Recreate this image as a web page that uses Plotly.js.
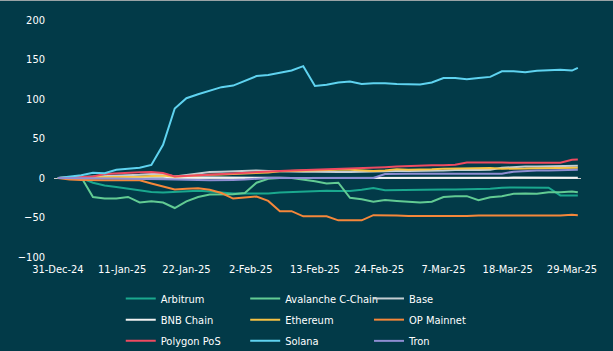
<!DOCTYPE html>
<html>
<head>
<meta charset="utf-8">
<script src="https://cdn.plot.ly/plotly-3.0.1.min.js"></script>
<style>
html,body{margin:0;padding:0;background:#023a48;}
#chart{width:613px;height:351px;}
#topline{position:absolute;left:0;top:0;width:613px;height:1px;background:#9aa3a6;}
</style>
</head>
<body>
<div id="chart"></div>
<div id="topline"></div>
<script>
const dates = ['2024-12-31','2025-01-02','2025-01-04','2025-01-06','2025-01-08','2025-01-10','2025-01-12','2025-01-14','2025-01-16','2025-01-18',
'2025-01-20','2025-01-22','2025-01-24','2025-01-26','2025-01-28','2025-01-30','2025-02-01','2025-02-03','2025-02-05','2025-02-07',
'2025-02-09','2025-02-11','2025-02-13','2025-02-15','2025-02-17','2025-02-19','2025-02-21','2025-02-23','2025-02-25','2025-02-27',
'2025-03-01','2025-03-03','2025-03-05','2025-03-07','2025-03-09','2025-03-11','2025-03-13','2025-03-15','2025-03-17','2025-03-19',
'2025-03-21','2025-03-23','2025-03-25','2025-03-27','2025-03-29','2025-03-30'];

const arbitrum = [0,0,0,-6,-9.5,-11.3,-13.5,-15.5,-17.7,-18.5,-17.5,-16.4,-16,-17,-18.5,-19.5,-19.5,-19.8,-19.5,-18.5,-17.7,-17,-16.5,-16,-16.5,-16.5,-15,-12.6,-15.5,-15.5,-15.5,-15,-14.7,-14.7,-14.5,-14.5,-14,-13.5,-12.2,-12,-12,-12,-12.2,-22,-22,-22];
const avalanche = [0,0.5,1,-24,-26,-26,-24,-31,-29.5,-31,-38,-29.5,-24,-21,-20.5,-20.5,-19,-6,-1,0,0,-1.7,-4,-7,-6,-25,-27,-30,-28,-29,-30,-31,-30,-24,-23,-23,-28,-24.5,-23,-20,-19.5,-19.8,-18,-18,-17,-18];
const base = [0,0.5,1,1.5,2,3,3.5,4,5,5,2,4,6,7.5,8,8.5,9,9.5,9,8.5,8.5,8,8,7.5,7.5,7.5,8,8,8.5,9,9,9,9.5,9.5,10,10.5,10,10.5,13,14,14.5,14.5,15,15,15.5,15.5];
const bnb = [0,0.3,0.5,0.5,0.8,1,1,1.2,1.5,1.5,0.5,1,1,1,1,0.8,0.5,0.5,0.3,0.2,0,0,0,-0.3,-0.3,-0.5,-0.5,-0.3,0,0,0,0,0.2,0.2,0.3,0.3,0.3,0.3,0.3,0.5,0.5,0.5,0.5,0.5,0.5,0.3];
const ethereum = [0,0,0.5,1,1,1.5,1.5,1.5,2.5,3,1.5,2.5,3.5,4.2,4.5,5,5.5,6.3,7,8.5,9,9.5,10,10,10.5,10.5,10,9,9.5,11,10.5,10.3,11,11.8,12,12.2,12.5,12.7,11.8,11.6,12,12.5,12.7,13,13,13];
const opMainnet = [0,-2,-2.5,-3,-3,-3,-3,-3,-7,-11,-14.5,-13.5,-13,-15,-19,-26,-24.5,-23.5,-29,-42,-42,-48.5,-48.5,-48.5,-53.6,-53.6,-53.6,-47,-47,-47.5,-48,-48,-48.5,-48,-48,-48,-47.5,-47.5,-47.5,-47.5,-47.5,-47.5,-47,-47.5,-46.5,-47];
const polygon = [0,0.5,1,2,5,6,6.5,7.3,7.6,6.3,2,2.8,3.5,4.7,5.5,6.5,7,7.8,8.6,9,9.5,10,10.5,10.8,11,11.5,12.2,13,13.7,14.5,15.2,15.5,16,16,16.8,19.5,19.7,20,19.5,19.2,19.2,19.3,19,19.3,23,23.5];
const solana = [0,1.5,3.5,6.5,6,10.5,12,13,16.5,42,88,101,106,111,115,117,122.5,129,130.5,133,136,141.6,116.5,118,121,122,119,120,120,119,119,118.5,121,126.5,126.5,125,126.5,128,135,135,134,135.8,136.5,137,136,139.5];
const tron = [0,0,-0.5,-0.5,-0.5,-0.5,-1,-1,-1,-1.5,-2,-2,-2.5,-3,-3,-2.5,-2,-1,0,0,0,0,-0.5,-0.5,-0.5,-0.5,-0.5,0,5,5.5,5.5,5.5,5.5,5.5,5.5,5.5,5.5,5.5,5.5,8,9,9.5,9.5,10,10.5,10.5];

const seriesNames = ['Arbitrum','Avalanche C-Chain','Base','BNB Chain','Ethereum','OP Mainnet','Polygon PoS','Solana','Tron'];
const seriesValues = [arbitrum, avalanche, base, bnb, ethereum, opMainnet, polygon, solana, tron];
const seriesColors = ['#1aa88e','#62cb93','#c4ced2','#f2f2f2','#f6c244','#f5873a','#ee4a60','#5fd3f0','#8e8dd2'];
const seriesLegend = ['legend','legend2','legend3','legend','legend2','legend3','legend','legend2','legend3'];

const xTickVals = ['2024-12-31','2025-01-11','2025-01-22','2025-02-02','2025-02-13','2025-02-24','2025-03-07','2025-03-18','2025-03-29'];
const xTickText = ['31-Dec-24','11-Jan-25','22-Jan-25','2-Feb-25','13-Feb-25','24-Feb-25','7-Mar-25','18-Mar-25','29-Mar-25'];

const FONT = "'Liberation Sans Narrow', 'Arial Narrow', 'DejaVu Sans Condensed', sans-serif";

const traces = seriesNames.map((n, i) => ({
  type: 'scatter', mode: 'lines', name: n, x: dates, y: seriesValues[i],
  line: {color: seriesColors[i], width: 2},
  legend: seriesLegend[i], legendgroup: 'g' + i, hoverinfo: 'skip'
}));

const legendBase = {
  orientation: 'v', yanchor: 'top', xanchor: 'left', yref: 'container', xref: 'container', y: 0.191,
  bgcolor: 'rgba(0,0,0,0)', font: {family: FONT, size: 11, color: '#ffffff'},
  tracegroupgap: 2.2, itemwidth: 30
};

const layout = {
  width: 613, height: 351,
  paper_bgcolor: '#023a48', plot_bgcolor: '#023a48',
  margin: {l: 54, r: 32, t: 20, b: 94, autoexpand: false},
  showlegend: true,
  font: {family: FONT, size: 11, color: '#ffffff'},
  xaxis: {
    type: 'date', range: ['2024-12-30 08:00', '2025-03-30 13:00'],
    tickmode: 'array', tickvals: xTickVals, ticktext: xTickText,
    showgrid: false, zeroline: false, showline: false, ticks: '',
    tickfont: {family: FONT, size: 11, color: '#ffffff'}, ticklabelstandoff: 4, automargin: false
  },
  yaxis: {
    range: [-100, 200], tickvals: [-100,-50,0,50,100,150,200],
    showgrid: false, zeroline: true, zerolinecolor: '#c9c9c9', zerolinewidth: 1,
    showline: false, ticks: '',
    tickfont: {family: FONT, size: 11, color: '#ffffff'}, ticklabelstandoff: 8, automargin: false
  },
  legend: Object.assign({}, legendBase, {x: 0.197}),
  legend2: Object.assign({}, legendBase, {x: 0.400}),
  legend3: Object.assign({}, legendBase, {x: 0.602})
};

Plotly.newPlot('chart', traces, layout, {displayModeBar: false, staticPlot: true});
</script>
</body>
</html>
